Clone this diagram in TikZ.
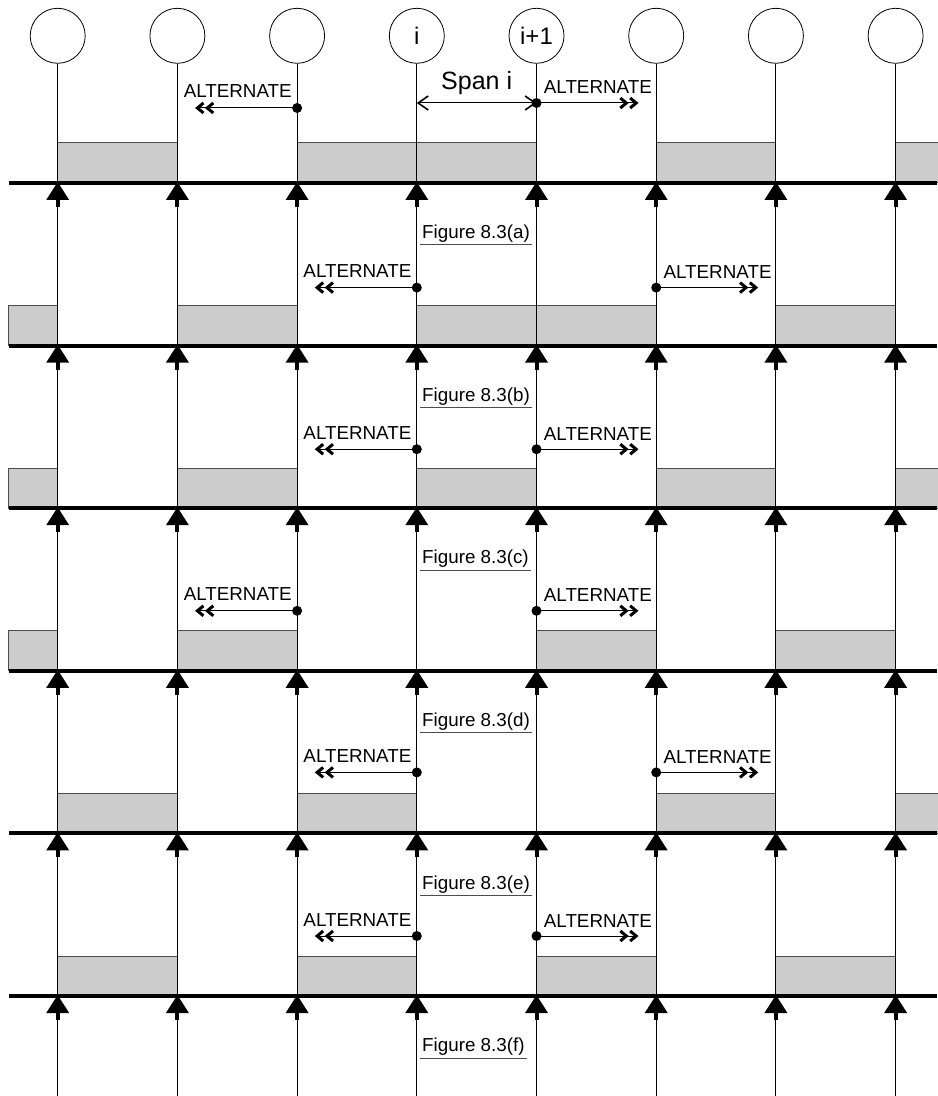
\documentclass[tikz,border=0pt]{standalone}
\usepackage{fontspec}
\setmainfont{Liberation Sans}
\usetikzlibrary{arrows.meta,calc}
\definecolor{spanfill}{gray}{0.8}
\definecolor{spanedge}{gray}{0.3}

\begin{document}
\begin{tikzpicture}[
  x=0.5pt,y=-0.5pt,
  font=\fontsize{9.4}{11}\selectfont,
  pier/.style={circle,draw,thin,minimum size=27.5pt,inner sep=0pt,font=\fontsize{12}{14}\selectfont},
  wire/.style={line width=0.5pt},
  rail/.style={line width=2pt},
  seg/.style={draw=spanedge,fill=spanfill,line width=0.5pt},
  prop/.pic={\fill (-11.5,18) -- (0,0) -- (11.5,18) -- cycle; \draw[line width=2pt] (0,16) -- (0,25);},
  dot/.style={circle,fill,inner sep=0pt,minimum size=5pt},
  alt/.style={line width=0.5pt,-{Straight Barb[length=3pt,width=5pt,line width=1.5pt]Straight Barb[length=3pt,width=5pt,line width=1.5pt]}},
  spanarr/.style={line width=0.5pt,{Straight Barb[length=5pt,width=7pt,line width=0.8pt]}-{Straight Barb[length=5pt,width=7pt,line width=0.8pt]}},
  lab/.style={inner sep=0pt},
  fig/.style={inner sep=1pt,anchor=south west},
  uline/.style={line width=0.5pt,spanedge}
]
\useasboundingbox (0,0) rectangle (937,1096);

% piers and rails
\foreach \j/\t in {0/{},1/{},2/{},3/i,4/i+1,5/{},6/{},7/{}}{
  \node[pier] (c\j) at ({57.7+119.7*\j},35.8) {\t};
  \coordinate (b\j) at ({57.7+119.7*\j},1096);
}
\foreach \k in {0,...,5}{
  \coordinate (l\k) at (9,{183+162.6*\k});
  \coordinate (r\k) at (937,{183+162.6*\k});
}

% loaded spans
\foreach \k/\list in {0/{0,2,3,5,7},1/{-1,1,3,4,6},2/{-1,1,3,5,7},3/{-1,1,4,6},4/{0,2,5,7},5/{0,2,4,6}}{
  \foreach \s in \list{
    \filldraw[seg] ({max(8,57.7+119.7*\s)},{143+162.6*\k}) rectangle ({min(945,57.7+119.7*(\s+1))},{183+162.6*\k});
  }
}

\foreach \j in {0,...,7} \draw[wire] (c\j) -- (b\j);
\foreach \k in {0,...,5}{
  \draw[rail] (l\k) -- (r\k);
  \foreach \j in {0,...,7}
    \pic at ($(c\j |- l\k)+(0,-1)$) {prop};
}

% alternate spans
\foreach \k/\tag/\lc/\rc/\lo/\ro in {0/a/2/4/75/80,1/b/3/5/58/58,2/c/3/4/59/59,3/d/2/4/60/60,4/e/3/5/61/61,5/f/3/4/60/60}{
  \node[dot] (dl\k) at ($(c\lc |- l\k)+(0,-\lo)$) {};
  \node[dot] (dr\k) at ($(c\rc |- l\k)+(0,-\ro)$) {};
  \coordinate (el\k) at ($(dl\k)+(-102,0)$);
  \coordinate (er\k) at ($(dr\k)+(102,0)$);
  \draw[alt] (dl\k.center) -- (el\k);
  \draw[alt] (dr\k.center) -- (er\k);
  \node[lab,anchor=base east] (al\k) at ($(dl\k)+(-5,-10)$) {ALTERNATE};
  \node[lab,anchor=base west] (ar\k) at ($(dr\k)+(7,-9)$) {ALTERNATE};
  \node[fig] (f\k) at ($(c3 |- l\k)+(3,62)$) {Figure 8.3(\tag)};
  \draw[uline] (f\k.south west) -- (f\k.south east);
}

% span i
\coordinate (si) at (c3 |- dr0);
\draw[spanarr] (si) -- (dr0.center);
\node[lab,anchor=base,font=\fontsize{12.5}{14}\selectfont] (sp) at ($(si)!0.5!(dr0)+(0,-13)$) {Span i};
\end{tikzpicture}
\end{document}
